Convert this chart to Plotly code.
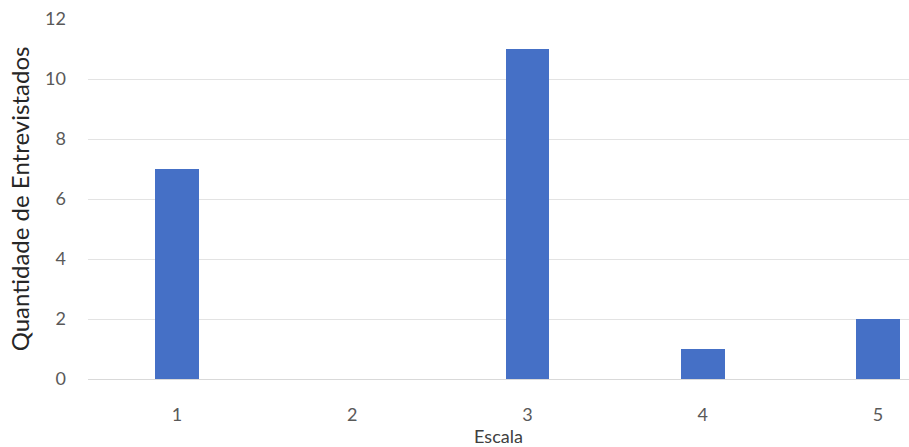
import plotly.graph_objects as go

# Survey responses per scale point
escala = [1, 2, 3, 4, 5]
entrevistados = [7, 0, 11, 1, 2]
y_ticks = [0, 2, 4, 6, 8, 10, 12]

FONT = "Lato"
TEXT = "#595959"

fig = go.Figure(
    go.Bar(
        x=escala,
        y=entrevistados,
        width=0.25,
        marker=dict(color="#4570c6", line=dict(width=0)),
        hoverinfo="x+y",
    )
)

fig.update_layout(
    width=909,
    height=447,
    margin=dict(l=88, r=0, t=19, b=68),
    paper_bgcolor="white",
    plot_bgcolor="white",
    showlegend=False,
    font=dict(family=FONT, color=TEXT),
    bargap=0,
)

fig.update_xaxes(
    range=[0.493, 5.177],
    tickvals=escala,
    ticktext=[str(v) for v in escala],
    tickfont=dict(size=18, color=TEXT),
    ticklabelstandoff=19,
    showgrid=False,
    zeroline=False,
    showline=True,
    linecolor="#d9d9d9",
    linewidth=1,
    title=dict(text="Escala", font=dict(size=18, color="#404040"), standoff=6),
)

fig.update_yaxes(
    range=[0, 12],
    tickvals=y_ticks,
    tickfont=dict(size=18, color=TEXT),
    ticklabelstandoff=21,
    showgrid=True,
    gridcolor="#e3e3e3",
    gridwidth=1,
    zeroline=False,
    showline=False,
    title=dict(text="Quantidade de Entrevistados", font=dict(size=24, color="#262626"), standoff=8),
)

fig.write_html("out.html")
